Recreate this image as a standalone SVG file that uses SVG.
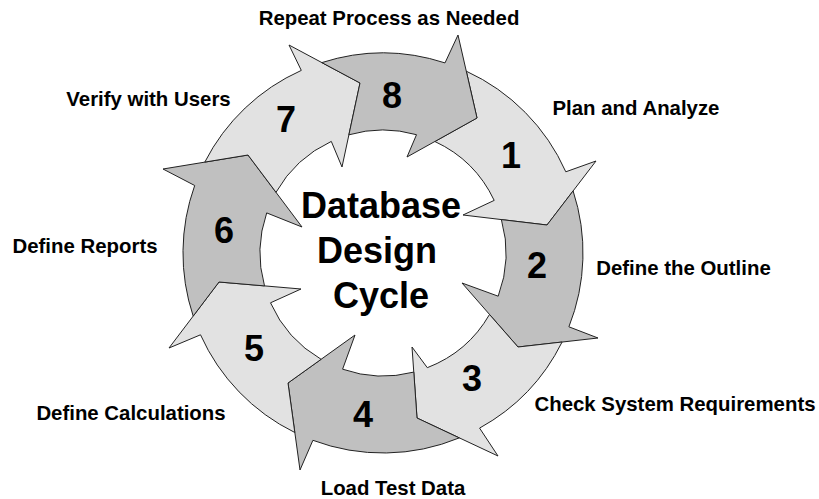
<svg xmlns="http://www.w3.org/2000/svg" width="819" height="499" viewBox="0 0 819 499">
<style>
.light{fill:#e2e2e2;stroke:#222;stroke-width:1;stroke-linejoin:miter}
.dark{fill:#c0c0c0;stroke:#222;stroke-width:1;stroke-linejoin:miter}
.num{font-family:"Liberation Sans",Arial,sans-serif;font-weight:bold;font-size:36px;fill:#000;text-anchor:middle}
.lbl{font-family:"Liberation Sans",Arial,sans-serif;font-weight:bold;font-size:20.4px;fill:#000;text-anchor:middle}
.ctr{font-family:"Liberation Sans",Arial,sans-serif;font-weight:bold;font-size:36px;fill:#000;text-anchor:middle}
</style>
<rect width="819" height="499" fill="#fff"/>
<g id="connectors">
<path id="arrow1" class="light" d="M466.3,71.2 A200,200 0 0 1 565.8,171.8 L596,161 L547,225 L463,215 L494.2,200.4 A123,123 0 0 0 434.9,141.5 L477,118 Z"/>
<path id="arrow2" class="dark" d="M573.1,190.9 A200,200 0 0 1 568.9,326.8 L598,338 L518,347 L462,283 L498.2,296.2 A123,123 0 0 0 501.4,219.6 L547,225 Z"/>
<path id="arrow3" class="light" d="M562.1,342 A200,200 0 0 1 479.6,428.1 L498,456 L417,418 L412,347 L427.3,367.7 A123,123 0 0 0 489.5,314.5 L518,347 Z"/>
<path id="arrow4" class="dark" d="M459.3,437.9 A200,200 0 0 1 312.9,440.3 L300,470 L288,383 L355,335 L342.6,369.2 A123,123 0 0 0 413.8,372.1 L417,418 Z"/>
<path id="arrow5" class="light" d="M294.8,432.5 A200,200 0 0 1 200.5,334.8 L169,348 L219,282 L301,289 L270.5,302.8 A123,123 0 0 0 321.1,359.3 L288,383 Z"/>
<path id="arrow6" class="dark" d="M193.2,316.1 A200,200 0 0 1 194.7,185.5 L163,169 L248,155 L302,227 L266.7,212.9 A123,123 0 0 0 264.5,285.9 L219,282 Z"/>
<path id="arrow7" class="light" d="M204.8,162.1 A200,200 0 0 1 301.3,70.4 L289,45 L360,83 L342,167 L331.3,141.4 A123,123 0 0 0 276,192.3 L248,155 Z"/>
<path id="arrow8" class="dark" d="M321.8,62.6 A200,200 0 0 1 445,62.9 L458,35 L477,118 L407,157 L416.5,134.7 A123,123 0 0 0 348.9,134.8 L360,83 Z"/>
</g>
<g id="center">
<text class="ctr" x="381" y="218">Database</text>
<text class="ctr" x="377" y="263">Design</text>
<text class="ctr" x="381" y="308">Cycle</text>
</g>
<g id="step1"><text class="num" x="511" y="168">1</text><text class="lbl" x="636" y="115">Plan and Analyze</text></g>
<g id="step2"><text class="num" x="537" y="278">2</text><text class="lbl" x="683.5" y="275">Define the Outline</text></g>
<g id="step3"><text class="num" x="472" y="390.5">3</text><text class="lbl" x="675" y="411">Check System Requirements</text></g>
<g id="step4"><text class="num" x="363" y="426.5">4</text><text class="lbl" x="393" y="494.5">Load Test Data</text></g>
<g id="step5"><text class="num" x="254" y="361">5</text><text class="lbl" x="131" y="420">Define Calculations</text></g>
<g id="step6"><text class="num" x="224" y="243">6</text><text class="lbl" x="85" y="253">Define Reports</text></g>
<g id="step7"><text class="num" x="286" y="132">7</text><text class="lbl" x="148.5" y="106">Verify with Users</text></g>
<g id="step8"><text class="num" x="392" y="108">8</text><text class="lbl" x="389" y="24.5">Repeat Process as Needed</text></g>
</svg>
